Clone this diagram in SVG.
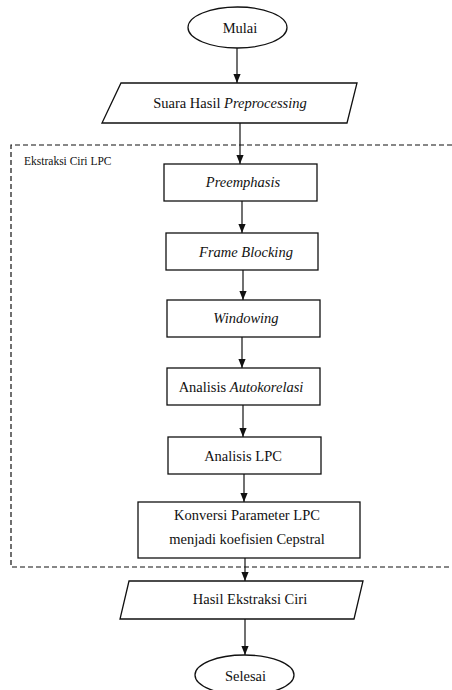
<svg xmlns="http://www.w3.org/2000/svg" width="452" height="690" viewBox="0 0 452 690">
<style>
.s{fill:#fff;stroke:#111;stroke-width:1.3}
.t{font-family:'Liberation Serif','DejaVu Serif',serif;font-size:14.5px;fill:#111;text-anchor:middle}
.i{font-style:italic}
.c{stroke:#111;stroke-width:1.2;fill:none;marker-end:url(#ah)}
.d{fill:none;stroke:#111;stroke-width:1.2;stroke-dasharray:5 3}
.lbl{font-family:'Liberation Serif','DejaVu Serif',serif;font-size:11.5px;fill:#111}
</style>
<defs>
<marker id="ah" viewBox="0 0 10 8" refX="10" refY="4" markerWidth="9" markerHeight="7.5" markerUnits="userSpaceOnUse" orient="auto">
<path d="M0,0 L10,4 L0,8 z" fill="#111"/>
</marker>
</defs>
<rect width="452" height="690" fill="#fff"/>
<g id="group-ekstraksi">
<path class="d" d="M452,145 H11 V567 H452"/>
<text class="lbl" x="24" y="165">Ekstraksi Ciri LPC</text>
</g>
<g id="connectors">
<line class="c" x1="237" y1="48" x2="237" y2="83"/>
<line class="c" x1="240" y1="123" x2="240" y2="164"/>
<line class="c" x1="242" y1="201" x2="242" y2="233"/>
<line class="c" x1="243" y1="270" x2="243" y2="300"/>
<line class="c" x1="242" y1="337" x2="242" y2="368"/>
<line class="c" x1="243" y1="405" x2="243" y2="437"/>
<line class="c" x1="244" y1="474" x2="244" y2="502"/>
<line class="c" x1="245" y1="558" x2="245" y2="581"/>
<line class="c" x1="245" y1="619" x2="245" y2="655"/>
</g>
<g id="mulai">
<ellipse class="s" cx="237.5" cy="27.5" rx="49.5" ry="20.5"/>
<text class="t" x="240" y="33">Mulai</text>
</g>
<g id="suara">
<polygon class="s" points="121,83 357,83 347,123 102,123"/>
<text class="t" x="230" y="108">Suara Hasil <tspan class="i">Preprocessing</tspan></text>
</g>
<g id="preemphasis">
<rect class="s" x="164" y="164" width="153" height="37"/>
<text class="t i" x="243" y="187">Preemphasis</text>
</g>
<g id="frame-blocking">
<rect class="s" x="166" y="233" width="152" height="37"/>
<text class="t i" x="246" y="257">Frame Blocking</text>
</g>
<g id="windowing">
<rect class="s" x="167" y="300" width="153" height="37"/>
<text class="t i" x="246" y="323">Windowing</text>
</g>
<g id="autokorelasi">
<rect class="s" x="167" y="368" width="153" height="37"/>
<text class="t" x="241" y="392">Analisis <tspan class="i">Autokorelasi</tspan></text>
</g>
<g id="analisis-lpc">
<rect class="s" x="168" y="437" width="153" height="37"/>
<text class="t" x="243" y="461">Analisis LPC</text>
</g>
<g id="konversi">
<rect class="s" x="138" y="502" width="222" height="56"/>
<text class="t" x="247" y="520">Konversi Parameter LPC</text>
<text class="t" x="247" y="544">menjadi koefisien Cepstral</text>
</g>
<g id="hasil">
<polygon class="s" points="129,581 363,581 354,619 120,619"/>
<text class="t" x="250" y="604">Hasil Ekstraksi Ciri</text>
</g>
<g id="selesai">
<ellipse class="s" cx="244.5" cy="675" rx="49.5" ry="20"/>
<text class="t" x="245.5" y="681">Selesai</text>
</g>
</svg>
